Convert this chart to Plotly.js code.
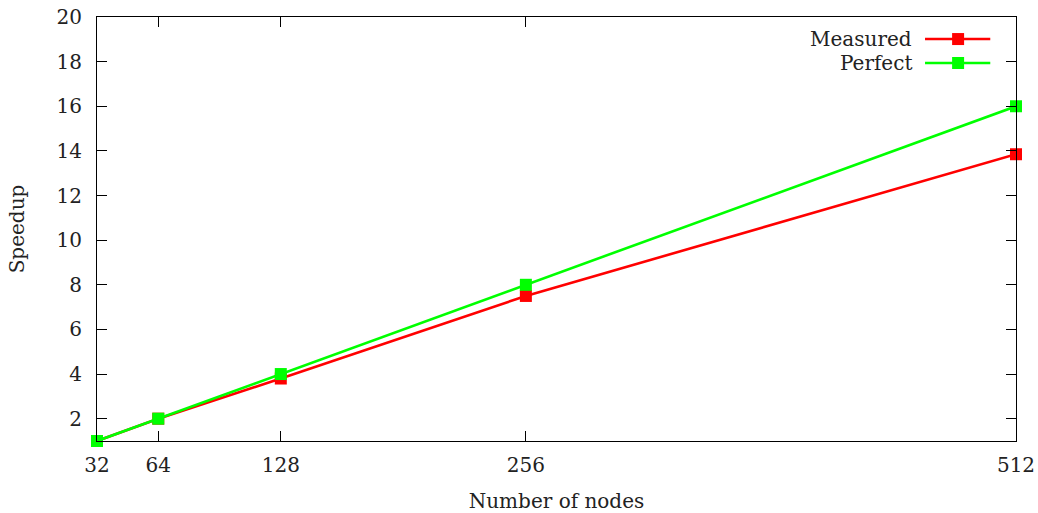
<!DOCTYPE html>
<html>
<head>
<meta charset="utf-8">
<script src="https://cdn.plot.ly/plotly-3.0.1.min.js"></script>
<style>html,body{margin:0;padding:0;background:#fff}#chart{width:1038px;height:513px}</style>
</head>
<body>
<div id="chart"></div>
<script>
const nodes = [32, 64, 128, 256, 512];
const measured = [1, 2, 3.8, 7.5, 13.85];
const perfect = [1, 2, 4, 8, 16];
const seriesNames = ['Measured', 'Perfect'];
const seriesColors = ['#ff0000', '#00ff00'];
const xTicks = [32, 64, 128, 256, 512];
const yTicks = [2, 4, 6, 8, 10, 12, 14, 16, 18, 20];

const FONT = {family: 'DejaVu Serif', size: 20, color: '#222'};

function mainTrace(y, i) {
  return {
    x: nodes, y: y, name: seriesNames[i], type: 'scatter', mode: 'lines+markers',
    line: {color: seriesColors[i], width: 2.6},
    marker: {symbol: 'square', size: 12, color: seriesColors[i]},
    cliponaxis: false,
    showlegend: false, hoverinfo: 'x+y'
  };
}

// legend sample geometry (paper fractions within the plot area)
const legY = [0.948, 0.8915];
function legendTrace(i) {
  return {
    x: [0.901, 0.937, 0.972], y: [legY[i], legY[i], legY[i]],
    xaxis: 'x2', yaxis: 'y2', type: 'scatter', mode: 'lines',
    line: {color: seriesColors[i], width: 2.6}, showlegend: false, hoverinfo: 'skip'
  };
}
function legendMarker(i) {
  return {
    x: [0.937], y: [legY[i]], xaxis: 'x2', yaxis: 'y2', type: 'scatter', mode: 'markers',
    marker: {symbol: 'square', size: 12, color: seriesColors[i]}, showlegend: false, hoverinfo: 'skip'
  };
}

const data = [
  mainTrace(measured, 0), mainTrace(perfect, 1),
  legendTrace(0), legendMarker(0), legendTrace(1), legendMarker(1)
];

const axisCommon = {
  showline: true, linecolor: '#000', linewidth: 1, mirror: 'allticks',
  ticks: 'inside', ticklen: 10, tickcolor: '#000', tickwidth: 1,
  showgrid: false, zeroline: false, tickfont: FONT
};

const layout = {
  width: 1038, height: 513,
  margin: {l: 97, r: 22, t: 17, b: 72},
  paper_bgcolor: '#fff', plot_bgcolor: '#fff',
  font: FONT,
  xaxis: Object.assign({}, axisCommon, {
    range: [32, 512], tickmode: 'array', tickvals: xTicks, ticktext: xTicks.map(String),
    ticklabelstandoff: 6,
    title: {text: 'Number of nodes', font: FONT, standoff: 20}
  }),
  yaxis: Object.assign({}, axisCommon, {
    range: [1, 20], tickmode: 'array', tickvals: yTicks, ticktext: yTicks.map(String),
    ticklabelstandoff: 10,
    title: {text: 'Speedup', font: FONT, standoff: 26}
  }),
  xaxis2: {overlaying: 'x', range: [0, 1], visible: false, fixedrange: true},
  yaxis2: {overlaying: 'y', range: [0, 1], visible: false, fixedrange: true},
  annotations: seriesNames.map((n, i) => ({
    xref: 'x2', yref: 'y2', x: 0.889, y: legY[i], text: n, showarrow: false,
    xanchor: 'right', yanchor: 'middle', font: FONT
  })),
  showlegend: false
};

Plotly.newPlot('chart', data, layout, {displayModeBar: false, staticPlot: true});
</script>
</body>
</html>
